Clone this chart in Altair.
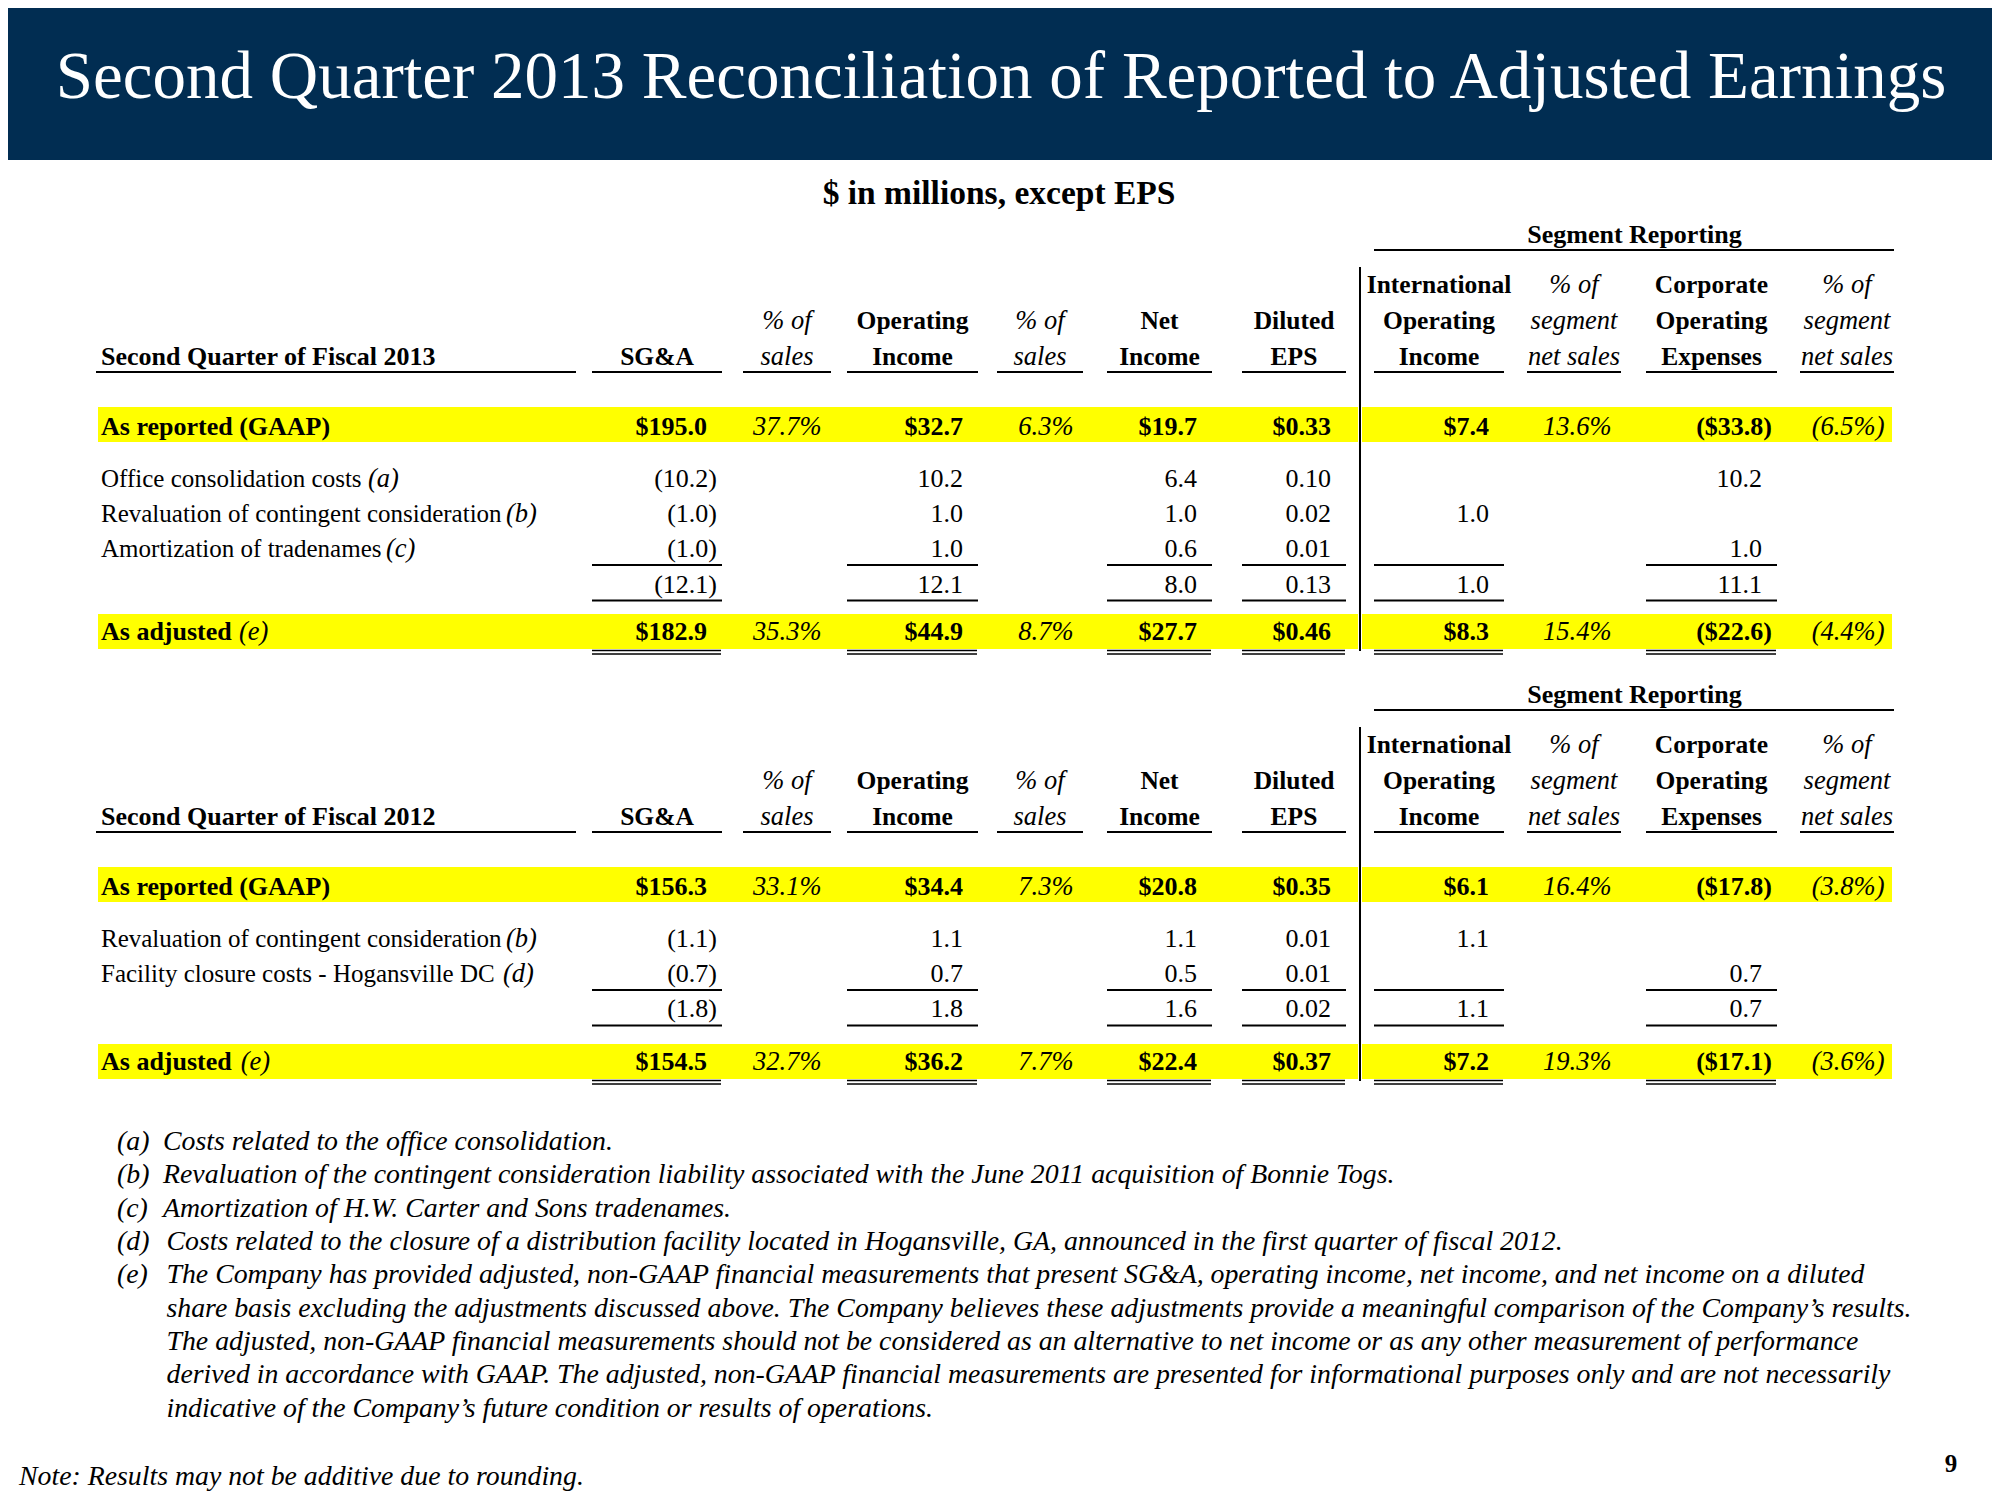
import altair as alt
import pandas as pd

# ---------------- data ----------------
title = "Second Quarter 2013 Reconciliation of Reported to Adjusted Earnings"
subtitle = "$ in millions, except EPS"
segment_title = "Segment Reporting"

col_headers = [["SG&A"], ["% of", "sales"], ["Operating", "Income"], ["% of", "sales"],
               ["Net", "Income"], ["Diluted", "EPS"], ["International", "Operating", "Income"],
               ["% of", "segment", "net sales"], ["Corporate", "Operating", "Expenses"],
               ["% of", "segment", "net sales"]]
col_kind = ["num", "pct", "num", "pct", "num", "num", "num", "pct", "num", "pct"]

fy13_title = "Second Quarter of Fiscal 2013"
fy13_reported = ["$195.0", "37.7%", "$32.7", "6.3%", "$19.7", "$0.33", "$7.4", "13.6%", "($33.8)", "(6.5%)"]
fy13_adj_labels = ["Office consolidation costs", "Revaluation of contingent consideration", "Amortization of tradenames"]
fy13_adj_notes = ["(a)", "(b)", "(c)"]
fy13_adj_values = [
    ["(10.2)", "", "10.2", "", "6.4", "0.10", "", "", "10.2", ""],
    ["(1.0)", "", "1.0", "", "1.0", "0.02", "1.0", "", "", ""],
    ["(1.0)", "", "1.0", "", "0.6", "0.01", "", "", "1.0", ""],
]
fy13_subtotal = ["(12.1)", "", "12.1", "", "8.0", "0.13", "1.0", "", "11.1", ""]
fy13_adjusted = ["$182.9", "35.3%", "$44.9", "8.7%", "$27.7", "$0.46", "$8.3", "15.4%", "($22.6)", "(4.4%)"]

fy12_title = "Second Quarter of Fiscal 2012"
fy12_reported = ["$156.3", "33.1%", "$34.4", "7.3%", "$20.8", "$0.35", "$6.1", "16.4%", "($17.8)", "(3.8%)"]
fy12_adj_labels = ["Revaluation of contingent consideration", "Facility closure costs - Hogansville DC"]
fy12_adj_notes = ["(b)", "(d)"]
fy12_adj_values = [
    ["(1.1)", "", "1.1", "", "1.1", "0.01", "1.1", "", "", ""],
    ["(0.7)", "", "0.7", "", "0.5", "0.01", "", "", "0.7", ""],
]
fy12_subtotal = ["(1.8)", "", "1.8", "", "1.6", "0.02", "1.1", "", "0.7", ""]
fy12_adjusted = ["$154.5", "32.7%", "$36.2", "7.7%", "$22.4", "$0.37", "$7.2", "19.3%", "($17.1)", "(3.6%)"]

reported_label = "As reported (GAAP)"
adjusted_label = "As adjusted"
adjusted_note = "(e)"

footnote_tags = ["(a)", "(b)", "(c)", "(d)", "(e)", "", "", "", ""]
footnote_lines = [
    "Costs related to the office consolidation.",
    "Revaluation of the contingent consideration liability associated with the June 2011 acquisition of Bonnie Togs.",
    "Amortization of H.W. Carter and Sons tradenames.",
    "Costs related to the closure of a distribution facility located in Hogansville, GA, announced in the first quarter of fiscal 2012.",
    "The Company has provided adjusted, non-GAAP financial measurements that present SG&A, operating income, net income, and net income on a diluted",
    "share basis excluding the adjustments discussed above. The Company believes these adjustments provide a meaningful comparison of the Company\u2019s results.",
    "The adjusted, non-GAAP financial measurements should not be considered as an alternative to net income or as any other measurement of performance",
    "derived in accordance with GAAP. The adjusted, non-GAAP financial measurements are presented for informational purposes only and are not necessarily",
    "indicative of the Company\u2019s future condition or results of operations.",
]
note_text = "Note: Results may not be additive due to rounding."
page_number = "9"

# ---------------- layout ----------------
NAVY = "#012D52"
YELLOW = "#FFFF00"
FONT = "Liberation Serif"
ITAL = 26.5   # italic size inside the table
FOOT = 27.8   # footnote size

col_left = [592, 743, 847, 997, 1107, 1242, 1374, 1527, 1646, 1800]
col_right = [722, 831, 978, 1083, 1212, 1346, 1504, 1621, 1777, 1894]
label_x = 101
header_base = [293, 329, 365]

texts, rects, rules = [], [], []


def T(x, y, text, align="left", weight="normal", style="normal", size=25, color="#000000"):
    texts.append(dict(x=x, y=y, text=text, align=align, weight=weight, style=style, size=size, color=color))


def R(x, x2, y, y2, color):
    rects.append(dict(x=x, x2=x2, y=y, y2=y2, color=color))


def L(x, x2, y, y2, w=2.0):
    rules.append(dict(x=x, x2=x2, y=y, y2=y2, w=w))


def put_values(vals, yb, bold):
    for i, v in enumerate(vals):
        if not v:
            continue
        if col_kind[i] == "pct":
            T(col_right[i] - 9.5, yb, v, "right", style="italic", size=ITAL)
        else:
            xr = col_right[i] - (5 if v.endswith(")") else 15)
            T(xr, yb, v, "right", "bold" if bold else "normal", size=26)


def band(top, bottom):
    R(98, 1358, top, bottom, YELLOW)
    R(1362, 1892, top, bottom, YELLOW)


def build_table(dy, ttl, rep, labels, notes, note_x, vals, subtotal, adjusted, adj_top, adj_note_x):
    T(1634.5, 243 + dy, segment_title, "center", "bold", size=26)
    L(1374, 1894, 250 + dy, 250 + dy, 2)
    T(label_x, 365 + dy, ttl, "left", "bold", size=26)
    L(96, 576, 372 + dy, 372 + dy, 2)
    for i, lines in enumerate(col_headers):
        cx = (col_left[i] + col_right[i]) / 2
        n = len(lines)
        for j, line in enumerate(lines):
            yb = header_base[3 - n + j] + dy
            if col_kind[i] == "pct":
                T(cx, yb, line, "center", style="italic", size=ITAL)
            else:
                T(cx, yb, line, "center", "bold", size=25.5)
        L(col_left[i], col_right[i], 372 + dy, 372 + dy, 2)
    # reported row
    band(407 + dy, 442 + dy)
    T(label_x, 435 + dy, reported_label, "left", "bold", size=26)
    put_values(rep, 435 + dy, True)
    # adjustment rows
    yb = 487 + dy
    for lab, nt, nx, row in zip(labels, notes, note_x, vals):
        T(label_x, yb, lab, "left", size=25)
        T(nx, yb, nt, "left", style="italic", size=ITAL)
        put_values(row, yb, False)
        yb += 35.2
    # subtotal
    for i in range(10):
        if col_kind[i] == "num":
            L(col_left[i], col_right[i], yb - 27.5, yb - 27.5, 2)
            L(col_left[i], col_right[i], yb + 8, yb + 8, 2)
    put_values(subtotal, yb, False)
    # adjusted row
    adj_bot = adj_top + 35
    band(adj_top, adj_bot)
    T(label_x, adj_top + 26, adjusted_label, "left", "bold", size=26)
    T(adj_note_x, adj_top + 26, adjusted_note, "left", style="italic", size=ITAL)
    put_values(adjusted, adj_top + 26, True)
    for i in range(10):
        if col_kind[i] == "num":
            L(col_left[i], col_right[i] - 1, adj_bot + 1.5, adj_bot + 1.5, 1.5)
            L(col_left[i], col_right[i] - 1, adj_bot + 5, adj_bot + 5, 1.5)
    # vertical separator
    L(1360, 1360, 267 + dy, adj_bot + 2, 2)


# header bar
R(0, 2000, 0, 160, NAVY)
T(1001, 98, title, "center", size=67, color="#FFFFFF")
T(999, 204, subtitle, "center", "bold", size=33.5)

build_table(0, fy13_title, fy13_reported, fy13_adj_labels, fy13_adj_notes, [368, 506, 386],
            fy13_adj_values, fy13_subtotal, fy13_adjusted, 614, 239)
build_table(460, fy12_title, fy12_reported, fy12_adj_labels, fy12_adj_notes, [506, 503],
            fy12_adj_values, fy12_subtotal, fy12_adjusted, 1044, 240.7)

# footnotes
fy = 1150
for k, (tag, line) in enumerate(zip(footnote_tags, footnote_lines)):
    if tag:
        T(117, fy, tag, "left", style="italic", size=FOOT)
    tx = 163 if k < 3 else 166.5
    T(tx, fy, line, "left", style="italic", size=FOOT)
    fy += 33.33
T(19, 1485, note_text, "left", style="italic", size=FOOT)
T(1951, 1472, page_number, "center", "bold", size=25)

# ---------------- chart ----------------
XS = alt.Scale(domain=[8, 1992], nice=False, zero=False)
YS = alt.Scale(domain=[8, 1492], nice=False, zero=False, reverse=True)

rect_df = pd.DataFrame(rects)
rule_df = pd.DataFrame(rules)
text_df = pd.DataFrame(texts)

layers = [
    alt.Chart(rect_df).mark_rect().encode(
        x=alt.X("x:Q", scale=XS, axis=None), x2="x2:Q",
        y=alt.Y("y:Q", scale=YS, axis=None), y2="y2:Q",
        color=alt.Color("color:N", scale=None, legend=None)),
    alt.Chart(rule_df).mark_rule(color="#000000").encode(
        x=alt.X("x:Q", scale=XS, axis=None), x2="x2:Q",
        y=alt.Y("y:Q", scale=YS, axis=None), y2="y2:Q",
        strokeWidth=alt.StrokeWidth("w:Q", scale=None, legend=None)),
]

for (al, wt, st), sub in text_df.groupby(["align", "weight", "style"]):
    layers.append(
        alt.Chart(sub.reset_index(drop=True)).mark_text(
            align=al, baseline="alphabetic", font=FONT, fontWeight=wt, fontStyle=st
        ).encode(
            x=alt.X("x:Q", scale=XS, axis=None),
            y=alt.Y("y:Q", scale=YS, axis=None),
            text="text:N",
            size=alt.Size("size:Q", scale=None, legend=None),
            color=alt.Color("color:N", scale=None, legend=None),
        )
    )

chart = alt.layer(*layers).properties(
    width=1984, height=1484, padding=0,
    autosize=alt.AutoSizeParams(type="none"),
    background="#FFFFFF",
).configure_view(stroke=None)

chart.save("out.html", embed_options={"renderer": "svg", "actions": False})
